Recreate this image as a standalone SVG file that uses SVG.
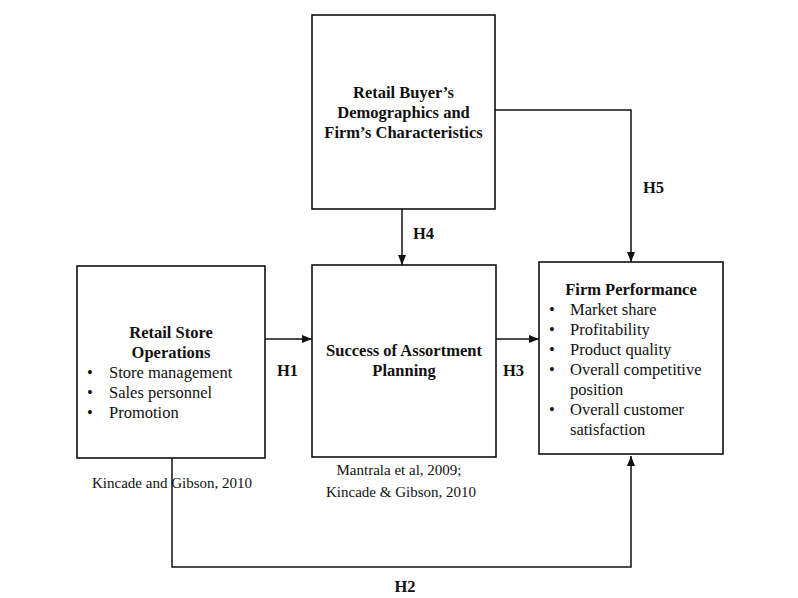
<svg xmlns="http://www.w3.org/2000/svg" width="798" height="598" viewBox="0 0 798 598">
<defs>
<marker id="ah" viewBox="0 0 10 10" refX="10" refY="5" markerWidth="10" markerHeight="10" markerUnits="userSpaceOnUse" orient="auto">
<path d="M0,1 L10,5 L0,9 Z" fill="#111"/>
</marker>
<style>
.box{fill:#fff;stroke:#111;stroke-width:1.6}
.t{font-family:"Liberation Serif","Times New Roman",serif;font-size:16.5px;fill:#111}
.b{font-weight:bold}
.c{font-size:15px}
.m{text-anchor:middle}
.ln{fill:none;stroke:#111;stroke-width:1.5}
</style>
</defs>
<rect width="798" height="598" fill="#fff"/>
<g id="connectors">
<path class="ln" d="M402,209 L402,265" marker-end="url(#ah)"/>
<path class="ln" d="M495,110 L631,110 L631,262" marker-end="url(#ah)"/>
<path class="ln" d="M265,339 L312,339" marker-end="url(#ah)"/>
<path class="ln" d="M496,339 L539,339" marker-end="url(#ah)"/>
<path class="ln" d="M172,458 L172,567 L631,567 L631,456" marker-end="url(#ah)"/>
</g>
<g id="buyer">
<rect class="box" x="312" y="15" width="183" height="194"/>
<text class="t b m" x="403.5" y="98">Retail Buyer’s</text>
<text class="t b m" x="403.5" y="118">Demographics and</text>
<text class="t b m" x="403.5" y="138">Firm’s Characteristics</text>
</g>
<g id="store">
<rect class="box" x="77" y="266" width="188" height="192"/>
<text class="t b m" x="171" y="338">Retail Store</text>
<text class="t b m" x="171" y="358">Operations</text>
<text class="t" x="87" y="378">•</text><text class="t" x="109" y="378">Store management</text>
<text class="t" x="87" y="398">•</text><text class="t" x="109" y="398">Sales personnel</text>
<text class="t" x="87" y="418">•</text><text class="t" x="109" y="418">Promotion</text>
<text class="t c" x="92" y="488">Kincade and Gibson, 2010</text>
</g>
<g id="assortment">
<rect class="box" x="312" y="265" width="184" height="192"/>
<text class="t b m" x="404" y="356">Success of Assortment</text>
<text class="t b m" x="404" y="376">Planning</text>
<text class="t c m" x="399" y="475">Mantrala et al, 2009;</text>
<text class="t c m" x="401" y="497">Kincade &amp; Gibson, 2010</text>
</g>
<g id="performance">
<rect class="box" x="539" y="262" width="184" height="192"/>
<text class="t b m" x="631" y="295">Firm Performance</text>
<text class="t" x="549" y="315">•</text><text class="t" x="570" y="315">Market share</text>
<text class="t" x="549" y="335">•</text><text class="t" x="570" y="335">Profitability</text>
<text class="t" x="549" y="355">•</text><text class="t" x="570" y="355">Product quality</text>
<text class="t" x="549" y="375">•</text><text class="t" x="570" y="375">Overall competitive</text>
<text class="t" x="570" y="395">position</text>
<text class="t" x="549" y="415">•</text><text class="t" x="570" y="415">Overall customer</text>
<text class="t" x="570" y="435">satisfaction</text>
</g>
<g id="labels">
<text class="t b" x="277" y="376">H1</text>
<text class="t b" x="503" y="376">H3</text>
<text class="t b" x="413" y="239">H4</text>
<text class="t b" x="643" y="193">H5</text>
<text class="t b m" x="405" y="592">H2</text>
</g>
</svg>
